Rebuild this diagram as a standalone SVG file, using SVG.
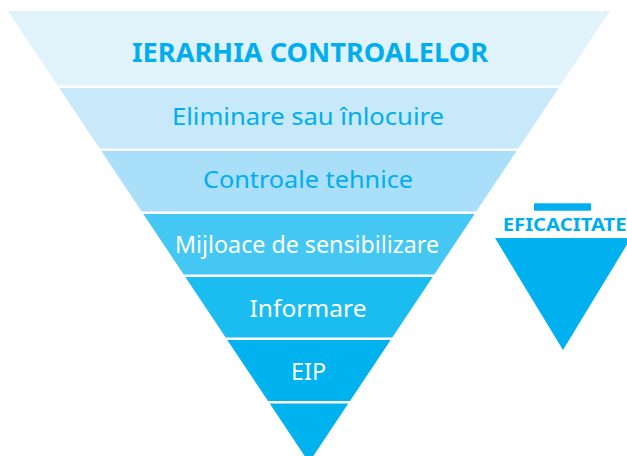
<svg xmlns="http://www.w3.org/2000/svg" width="627" height="456" viewBox="0 0 627 456">
<style>
.t{font-family:"Noto Sans","Open Sans","Liberation Sans",sans-serif;font-size:24px;text-anchor:middle}
.b{fill:#00AEEF}
.w{fill:#FFFFFF}
.h{font-family:"Noto Sans","Open Sans","Liberation Sans",sans-serif;font-weight:bold;text-anchor:middle;fill:#00AEEF}
</style>
<rect width="627" height="456" fill="#FFFFFF"/>
<g id="band1">
<polygon points="8,11 610,11 560.3,85.5 57.7,85.5" fill="#E0F3FB"/>
<text class="h" x="310" y="62" font-size="27" textLength="356" lengthAdjust="spacingAndGlyphs">IERARHIA CONTROALELOR</text>
</g>
<g id="band2">
<polygon points="59.3,88 558.7,88 518.3,148.5 99.7,148.5" fill="#C7E9F9"/>
<text class="t b" x="308" y="124.5" textLength="272" lengthAdjust="spacingAndGlyphs">Eliminare sau înlocuire</text>
</g>
<g id="band3">
<polygon points="101.3,151 516.7,151 476.3,211.5 141.7,211.5" fill="#A9DFF9"/>
<text class="t b" x="308" y="188" textLength="210" lengthAdjust="spacingAndGlyphs">Controale tehnice</text>
</g>
<g id="band4">
<polygon points="143.3,214 474.7,214 434.3,274.5 183.7,274.5" fill="#45C7F4"/>
<text class="t w" x="307" y="252.5" textLength="264" lengthAdjust="spacingAndGlyphs">Mijloace de sensibilizare</text>
</g>
<g id="band5">
<polygon points="185.3,277 432.7,277 392.3,337.5 225.7,337.5" fill="#1BBDF0"/>
<text class="t w" x="308" y="316.5" textLength="117" lengthAdjust="spacingAndGlyphs">Informare</text>
</g>
<g id="band6">
<polygon points="227.3,340 390.7,340 350,401 268,401" fill="#00B3EF"/>
<text class="t w" x="308.5" y="380" textLength="35" lengthAdjust="spacingAndGlyphs">EIP</text>
</g>
<g id="band7">
<polygon points="269.7,403.5 348.3,403.5 309,462.5" fill="#00B3EF"/>
</g>
<g id="eficacitate">
<rect x="534" y="203.3" width="57" height="7.4" fill="#00AEEF"/>
<text class="h" x="564.7" y="231" font-size="18" textLength="124" lengthAdjust="spacingAndGlyphs">EFICACITATE</text>
<polygon points="495,238 631,238 563,350" fill="#00B0EF"/>
</g>
<g id="connectors"></g>
</svg>
